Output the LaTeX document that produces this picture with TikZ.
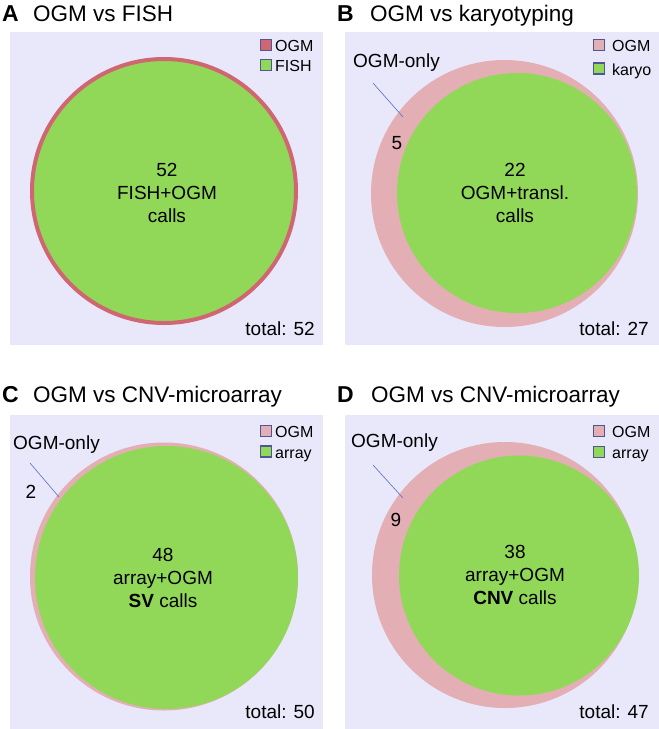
\documentclass[tikz,border=0pt]{standalone}
\usepackage{fontspec}
\setmainfont{Liberation Sans}
\usetikzlibrary{positioning}

\definecolor{bgpanel}{RGB}{232,232,250}
\definecolor{ogmred}{RGB}{208,102,114}
\definecolor{ogmpink}{RGB}{227,175,181}
\definecolor{callgreen}{RGB}{146,216,88}
\definecolor{keyblue}{RGB}{78,86,150}
\definecolor{leadblue}{RGB}{90,108,200}

\begin{document}
\begin{tikzpicture}[x=1pt, y=-1pt,
    every node/.style={inner sep=0pt, font=\fontsize{19}{23}\selectfont},
    panel/.style={fill=bgpanel, draw=none},
    letter/.style={anchor=base west, font=\fontsize{23}{27}\selectfont\bfseries},
    heading/.style={anchor=base west, font=\fontsize{22.5}{27}\selectfont},
    ogm_set/.style={circle, fill=ogmpink, minimum size=#1},
    call_set/.style={circle, fill=callgreen, minimum size=#1},
    key_box/.style={draw=keyblue, line width=1.1pt, minimum size=11pt},
    key_text/.style={anchor=base west, font=\fontsize{16}{19}\selectfont},
    total/.style={anchor=base east},
    leader/.style={draw=leadblue, line width=0.6pt}
]
\useasboundingbox (0,0) rectangle (659,729);

% Paneles
\fill[panel] (10,32) rectangle (323,345);
\fill[panel] (345,32) rectangle (659,345);
\fill[panel] (10,415) rectangle (323,729);
\fill[panel] (345,415) rectangle (659,729);

% A: OGM vs FISH
\node[letter] (la) at (2,21) {A};
\node[heading] (ta) at (33,21) {OGM vs FISH};
\node[call_set=264pt, draw=ogmred, line width=4pt] (fish) at (164,191) {};
\node[align=center] (ca) at (167,193) {52\\FISH+OGM\\calls};
\node[key_box, fill=ogmred] (ka1) at (266,45) {};
\node[key_box, fill=callgreen] (ka2) at (266,65) {};
\node[key_text] (kta1) at (275,51) {OGM};
\node[key_text] (kta2) at (275,71) {FISH};
\node[total] (tota) at (315,335) {total: 52};

% B: OGM vs karyotyping
\node[letter] (lb) at (337,21) {B};
\node[heading] (tb) at (370,21) {OGM vs karyotyping};
\node[ogm_set=267pt] (ogmb) at (504.5,193.5) {};
\node[call_set=240pt] (karyo) at (517,193) {};
\node[align=center] (cb) at (515,193) {22\\OGM+transl.\\calls};
\node[anchor=base west] (ob) at (353,67) {OGM-only};
\coordinate (lb1) at (373,83);
\coordinate (lb2) at (403,117);
\draw[leader] (lb1) -- (lb2);
\node (nb) at (397,143) {5};
\node[key_box, fill=ogmpink] (kb1) at (599,45) {};
\node[key_box, fill=callgreen] (kb2) at (599,68.5) {};
\node[key_text] (ktb1) at (612,51) {OGM};
\node[key_text] (ktb2) at (612,75) {karyo};
\node[total] (totb) at (649,335) {total: 27};

% C: OGM vs CNV-microarray (SV)
\node[letter] (lc) at (2,402) {C};
\node[heading] (tc) at (33,402) {OGM vs CNV-microarray};
\node[ogm_set=268pt] (ogmc) at (164,576.5) {};
\node[call_set=263pt] (arrayc) at (166.5,577.5) {};
\node[align=center] (cc) at (163,578) {48\\array+OGM\\\textbf{SV} calls};
\node[anchor=base west] (oc) at (13,449) {OGM-only};
\coordinate (lc1) at (30,463);
\coordinate (lc2) at (59,497);
\draw[leader] (lc1) -- (lc2);
\node (nc) at (31,492) {2};
\node[key_box, fill=ogmpink] (kc1) at (266,431) {};
\node[key_box, fill=callgreen] (kc2) at (266,451.5) {};
\node[key_text] (ktc1) at (275,437) {OGM};
\node[key_text] (ktc2) at (275,458) {array};
\node[total] (totc) at (315,718) {total: 50};

% D: OGM vs CNV-microarray (CNV)
\node[letter] (ld) at (337,402) {D};
\node[heading] (td) at (371,402) {OGM vs CNV-microarray};
\node[ogm_set=266pt] (ogmd) at (505,575) {};
\node[call_set=240pt] (arrayd) at (519,575.5) {};
\node[align=center] (cd) at (515,575) {38\\array+OGM\\\textbf{CNV} calls};
\node[anchor=base west] (od) at (351,447) {OGM-only};
\coordinate (ld1) at (373,465);
\coordinate (ld2) at (403,498);
\draw[leader] (ld1) -- (ld2);
\node (nd) at (396,520) {9};
\node[key_box, fill=ogmpink] (kd1) at (599,431) {};
\node[key_box, fill=callgreen] (kd2) at (599,452) {};
\node[key_text] (ktd1) at (612,437) {OGM};
\node[key_text] (ktd2) at (612,458) {array};
\node[total] (totd) at (649,718) {total: 47};

\end{tikzpicture}
\end{document}
